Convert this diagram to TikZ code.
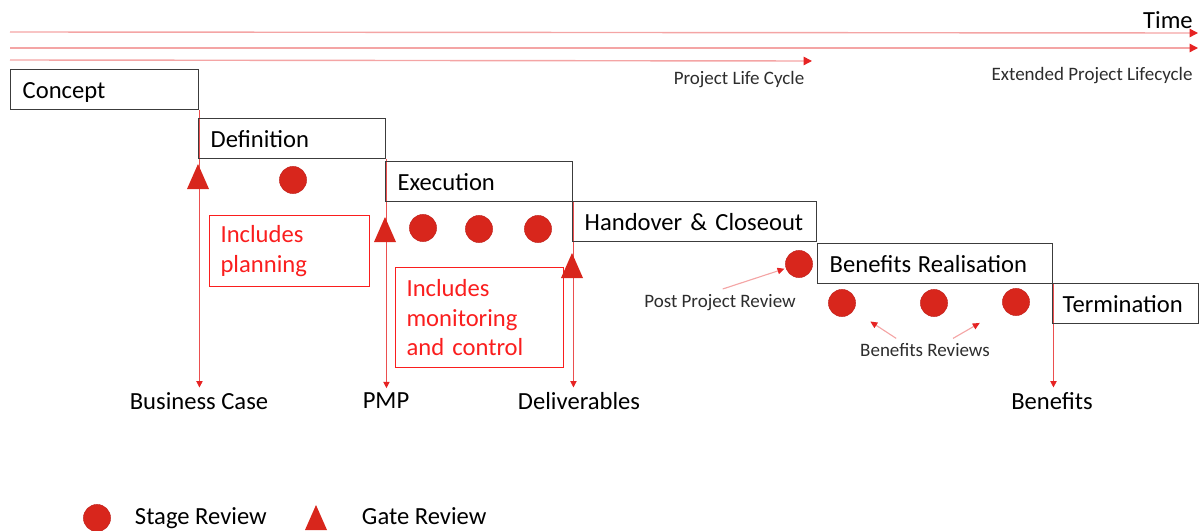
\documentclass[tikz,border=0pt]{standalone}
\usepackage{fontspec}
\setmainfont{Carlito}
\usetikzlibrary{arrows.meta, backgrounds}
\definecolor{dotred}{RGB}{216,38,28}
\definecolor{dotedge}{RGB}{190,30,25}
\definecolor{notered}{RGB}{250,30,30}
\definecolor{linepink}{RGB}{244,165,165}
\definecolor{tipred}{RGB}{230,35,35}
\definecolor{boxgray}{RGB}{60,60,60}
\definecolor{smallgray}{RGB}{45,45,45}
\tikzset{
  gatepic/.pic={\fill[dotred] (0,-13) -- (11,12) -- (-11,12) -- cycle;}
}

\begin{document}
\begin{tikzpicture}[x=0.025cm, y=-0.025cm,
  bigfont/.style={font=\fontsize{17.5}{21}\selectfont},
  stage/.style={shape=rectangle, draw=boxgray, line width=1pt, anchor=north west, minimum height=1cm, inner xsep=0.3cm, text height=12.5pt, text depth=0pt, align=left, bigfont},
  notebox/.style={shape=rectangle, draw=notered, line width=0.8pt, text=notered, anchor=north west, inner xsep=0.275cm, align=left, font=\fontsize{17.5}{21}\selectfont},
  stagedot/.style={circle, fill=dotred, draw=dotedge, line width=0.3pt, minimum size=0.68cm, inner sep=0pt},
  smalltext/.style={text=smallgray, font=\fontsize{13.5}{15}\selectfont},
  timeline/.style={draw=linepink, line width=1pt, -{Triangle[length=6pt, width=6pt, color=tipred]}},
  vline/.style={draw=tipred!80, line width=0.55pt, -{Triangle[length=4.5pt, width=4.5pt, color=tipred]}},
  pointer/.style={draw=linepink, line width=0.8pt, -{Triangle[length=5pt, width=4.5pt, color=tipred]}}]
	\useasboundingbox (0,0) rectangle (1201,531);
	% Time lines:
	\coordinate (t1s) at (10,32);
	\coordinate (t1e) at (1198,33);
	\coordinate (t2s) at (10,48);
	\coordinate (t2e) at (1198,48);
	\coordinate (t3s) at (10,60);
	\coordinate (t3e) at (812,61);
	\draw[timeline] (t1s) -- (t1e);
	\draw[timeline] (t2s) -- (t2e);
	\draw[timeline] (t3s) -- (t3e);
	\node[bigfont, anchor=east, inner sep=0pt] (time) at (1193,20){Time};
	\node[smalltext] (plc) at (739,80){Project Life Cycle};
	\node[smalltext] (eplc) at (1092,76){Extended Project Lifecycle};
	% Stages:
	\node[stage, text width=4.1cm] (concept) at (10,69){Concept};
	\node[stage, text width=4.075cm] (definition) at (198,118){Definition};
	\node[stage, text width=4.075cm] (execution) at (385,161){Execution};
	\node[stage, text width=5.5cm] (handover) at (572,201){Handover \& Closeout};
	\node[stage, text width=5.275cm] (benefits) at (817,243){Benefits\kern-1pt\ Realisation};
	\node[stage, text width=3.15cm, inner xsep=0.25cm] (termination) at (1052,283){Termination};
	% Notes:
	\node[notebox, text width=3.45cm, minimum height=1.775cm] (planning) at (209,215){Includes\\planning};
	\node[notebox, text width=3.65cm, minimum height=2.5cm] (monitoring) at (395,267){Includes\\monitoring\\and control};
	% Outputs:
	\node[bigfont] (bcase) at (199,401){Business Case};
	\node[bigfont] (pmp) at (386,401){PMP};
	\node[bigfont] (deliverables) at (579,401){Deliverables};
	\node[bigfont] (bens) at (1052,401){Benefits};
	\begin{scope}[on background layer]
		\draw[vline] (concept.south east) -- (concept.south east |- bcase.north);
		\draw[vline] (definition.south east) -- (definition.south east |- pmp.north);
		\draw[vline] (execution.south east) -- (execution.south east |- deliverables.north);
		\draw[vline] (benefits.south east) -- (benefits.south east |- bens.north);
	\end{scope}
	% Gate reviews:
	\pic at (198,177) {gatepic};
	\pic at (385,230) {gatepic};
	\pic at (572,266) {gatepic};
	% Stage reviews:
	\node[stagedot] (d1) at (293,180){};
	\node[stagedot] (e1) at (423,228){};
	\node[stagedot] (e2) at (479,229){};
	\node[stagedot] (e3) at (538,229){};
	\node[stagedot] (pprdot) at (799,264){};
	\node[stagedot] (b1) at (842,303){};
	\node[stagedot] (b2) at (934,303){};
	\node[stagedot] (b3) at (1016,302){};
	\node[smalltext] (ppr) at (720,303){Post Project Review};
	\node[smalltext] (brev) at (925,350){Benefits Reviews};
	\draw[pointer, shorten <=2pt, shorten >=1pt] (ppr.north) -- (pprdot);
	\draw[pointer, shorten >=0.5cm] ([xshift=-0.72cm]brev.north) -- (b1);
	\draw[pointer, shorten >=0.7cm] ([xshift=0.7cm]brev.north) -- (b3);
	% Legend:
	\node[stagedot] (legdot) at (97,518){};
	\node[bigfont, anchor=west] (legstage) at (130,518){Stage Review};
	\pic at (316,518) {gatepic};
	\node[bigfont, anchor=west] (leggate) at (357,516){Gate Review};
\end{tikzpicture}
\end{document}
